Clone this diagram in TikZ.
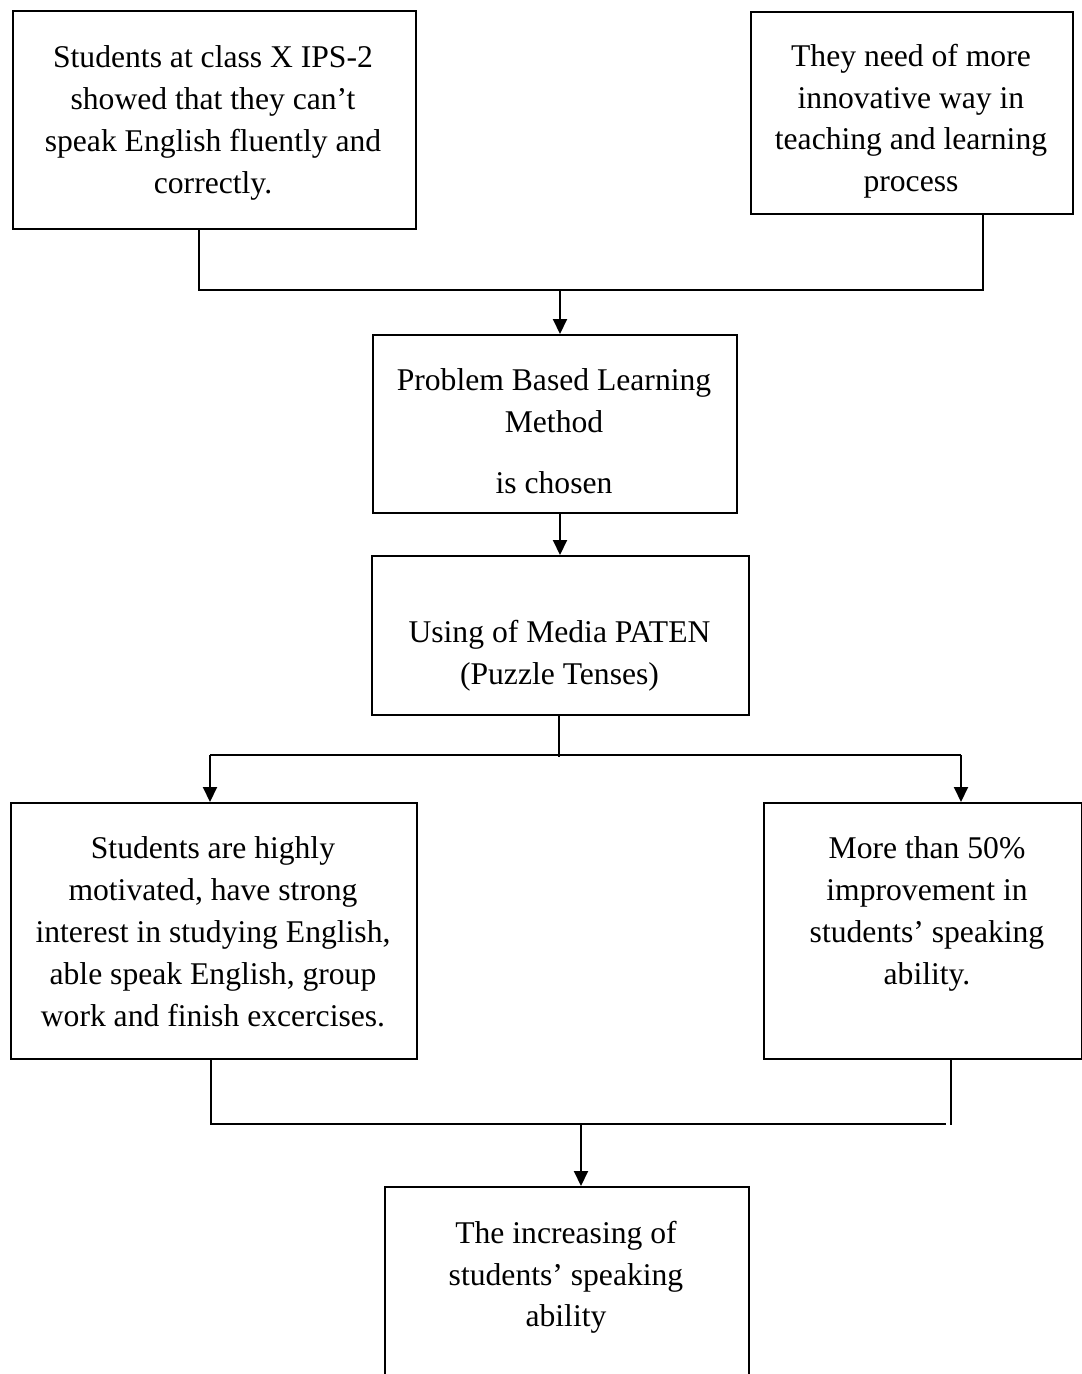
\documentclass[tikz,border=0pt]{standalone}
\usepackage{fontspec}
\setmainfont{Liberation Serif}
\usetikzlibrary{arrows.meta, positioning, calc}
\newcommand{\pxu}{0.02cm}

\begin{document}
\begin{tikzpicture}[x=0.02cm, y=-0.02cm, line width=1.1pt,
    box/.style={draw, anchor=north west, inner sep=0pt},
    txt/.style={anchor=north, align=center, inner sep=0pt,
                font=\fontsize{18pt}{23.8pt}\selectfont},
    arr/.style={-{Triangle[length=0.3cm, width=0.28cm]}}]
  \useasboundingbox (0,0) rectangle (1082,1374);

  % Starting conditions
  \node[box, minimum width=403*\pxu, minimum height=218*\pxu] (cond) at (12,10) {};
  \node[txt] (condtxt) at (213,45) {Students at class X IPS-2\\showed that they can’t\\speak English fluently and\\correctly.};
  \node[box, minimum width=322*\pxu, minimum height=202*\pxu] (need) at (750,11) {};
  \node[txt] (needtxt) at (911,43) {They need of more\\innovative way in\\teaching and learning\\process};

  % Method and media
  \node[box, minimum width=364*\pxu, minimum height=178*\pxu] (pbl) at (372,334) {};
  \node[txt] (pbltxt) at (554,368) {Problem Based Learning\\Method\\[0.38cm]is chosen};
  \node[box, minimum width=377*\pxu, minimum height=159*\pxu] (media) at (371,555) {};
  \node[txt] (mediatxt) at (559.5,619) {Using of Media PATEN\\(Puzzle Tenses)};

  % Results
  \node[box, minimum width=406*\pxu, minimum height=256*\pxu] (motiv) at (10,802) {};
  \node[txt] (motivtxt) at (213,836) {Students are highly\\motivated, have strong\\interest in studying English,\\able speak English, group\\work and finish excercises.};
  \node[box, minimum width=318*\pxu, minimum height=256*\pxu] (impr) at (763,802) {};
  \node[txt] (imprtxt) at (927,836) {More than 50\%\\improvement in\\students’ speaking\\ability.};

  % Outcome
  \node[box, minimum width=364*\pxu, minimum height=214*\pxu] (incr) at (384,1186) {};
  \node[txt] (incrtxt) at (566,1220) {The increasing of\\students’ speaking\\ability};

  % Connectors
  \coordinate (jTopL) at (199,290);
  \coordinate (jTop) at (560,290);
  \coordinate (jTopR) at (983,290);
  \draw (cond.south -| jTopL) -- (jTopL) -- (jTopR) -- (need.south -| jTopR);
  \draw[arr] (jTop) -- (jTop |- pbl.north);
  \draw[arr] (pbl.south -| jTop) -- (media.north -| jTop);

  \coordinate (jMid) at (559,757);
  \coordinate (jMidL) at (210,755);
  \coordinate (jMidR) at (961,755);
  \draw (media.south -| jMid) -- (jMid);
  \draw (jMidL) -- (jMidR);
  \draw[arr] (jMidL) -- (jMidL |- motiv.north);
  \draw[arr] (jMidR) -- (jMidR |- impr.north);

  \coordinate (jBotL) at (211,1124);
  \coordinate (jBotE) at (946,1124);
  \coordinate (jBotR) at (951,1125);
  \coordinate (jBot) at (581,1124);
  \draw (motiv.south -| jBotL) -- (jBotL) -- (jBotE);
  \draw (impr.south -| jBotR) -- (jBotR);
  \draw[arr] (jBot) -- (jBot |- incr.north);
\end{tikzpicture}
\end{document}
